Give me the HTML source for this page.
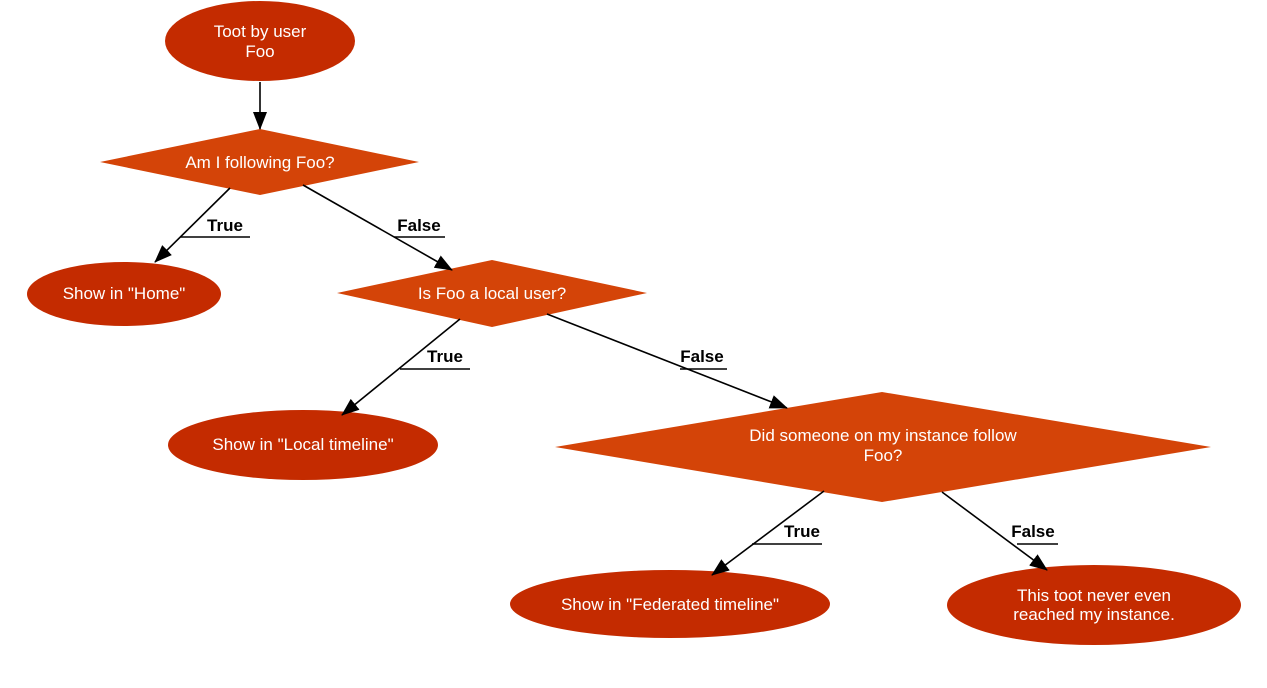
<!DOCTYPE html>
<html><head><style>body{margin:0;background:#fff}svg{display:block}</style></head><body>
<svg width="1267" height="688" viewBox="0 0 1267 688" xmlns="http://www.w3.org/2000/svg">
<defs><marker id="a" markerWidth="18" markerHeight="14" refX="17" refY="7" orient="auto" markerUnits="userSpaceOnUse"><path d="M0,0 L18,7 L0,14 z" fill="#000"/></marker></defs>
<g fill="#c42b00">
<ellipse cx="260" cy="41" rx="95" ry="40"/>
<ellipse cx="124" cy="294" rx="97" ry="32"/>
<ellipse cx="303" cy="445" rx="135" ry="35"/>
<ellipse cx="670" cy="604" rx="160" ry="34"/>
<ellipse cx="1094" cy="605" rx="147" ry="40"/>
</g>
<g fill="#d44408">
<polygon points="260,129 419,162 260,195 100,162"/>
<polygon points="492,260 647,293 492,327 337,293"/>
<polygon points="882,392 1211,447 882,502 555,447"/>
</g>
<g stroke="#000" stroke-width="1.6" fill="none" marker-end="url(#a)">
<line x1="260" y1="82" x2="260" y2="129"/>
<line x1="230" y1="188" x2="155" y2="262"/>
<line x1="303" y1="185" x2="452" y2="270"/>
<line x1="460" y1="319" x2="342" y2="415"/>
<line x1="547" y1="314" x2="787" y2="408"/>
<line x1="824" y1="491" x2="712" y2="575"/>
<line x1="942" y1="492" x2="1047" y2="570"/>
</g>
<g stroke="#000" stroke-width="1.4">
<line x1="180" y1="237" x2="250" y2="237"/>
<line x1="394" y1="237" x2="445" y2="237"/>
<line x1="400" y1="369" x2="470" y2="369"/>
<line x1="680" y1="369" x2="727" y2="369"/>
<line x1="752" y1="544" x2="822" y2="544"/>
<line x1="1017" y1="544" x2="1058" y2="544"/>
</g>
<g font-family="Liberation Sans, sans-serif" font-size="17" font-weight="bold" fill="#000" text-anchor="middle">
<text x="225" y="231">True</text>
<text x="419" y="231">False</text>
<text x="445" y="362">True</text>
<text x="702" y="362">False</text>
<text x="802" y="537">True</text>
<text x="1033" y="537">False</text>
</g>
<g font-family="Liberation Sans, sans-serif" font-size="17" fill="#fff" text-anchor="middle">
<text x="260" y="37">Toot by user</text>
<text x="260" y="57">Foo</text>
<text x="260" y="168">Am I following Foo?</text>
<text x="124" y="299">Show in "Home"</text>
<text x="492" y="299">Is Foo a local user?</text>
<text x="303" y="450">Show in "Local timeline"</text>
<text x="883" y="441">Did someone on my instance follow</text>
<text x="883" y="461">Foo?</text>
<text x="670" y="610">Show in "Federated timeline"</text>
<text x="1094" y="601">This toot never even</text>
<text x="1094" y="620">reached my instance.</text>
</g>
</svg>
</body></html>
